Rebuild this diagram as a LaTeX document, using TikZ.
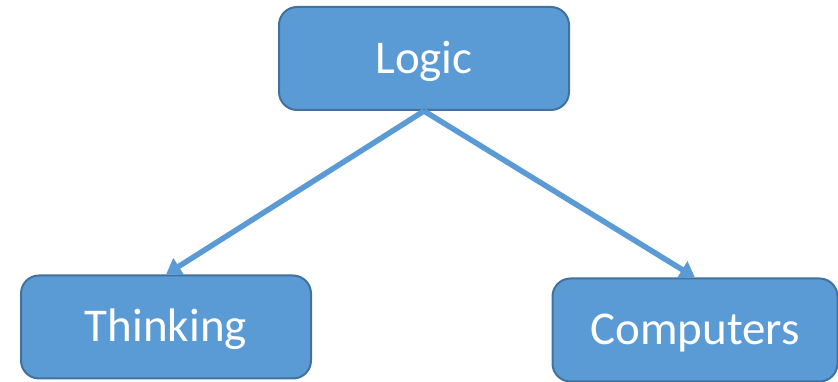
\documentclass[tikz,border=0pt]{standalone}
\usepackage{fontspec}
\setmainfont{Carlito}
\usetikzlibrary{arrows.meta}
\definecolor{boxfill}{HTML}{5B9BD5}
\definecolor{boxline}{HTML}{41719C}
\tikzset{
  topicbox/.style={draw=boxline, line width=2pt, fill=boxfill, rounded corners=18pt,
    inner sep=0pt, text=white, font=\fontsize{47}{56}\selectfont,
    minimum width=290pt, minimum height=103pt, text depth=0pt, text height=30pt},
  link/.style={draw=boxfill, line width=5.5pt, -{Triangle[length=15pt,width=19pt]}}
}
\begin{document}
\begin{tikzpicture}[x=1pt,y=1pt]
\useasboundingbox (0,0) rectangle (838,382);
\node[topicbox] (logic) at (424,323.5) {Logic};
\node[topicbox] (thinking) at (166,55) {Thinking};
\node[topicbox, minimum width=285pt] (computers) at (695,52) {Computers};
\draw[link] (logic.south) -- (thinking.north);
\draw[link] (logic.south) -- (computers.north);
\end{tikzpicture}
\end{document}
